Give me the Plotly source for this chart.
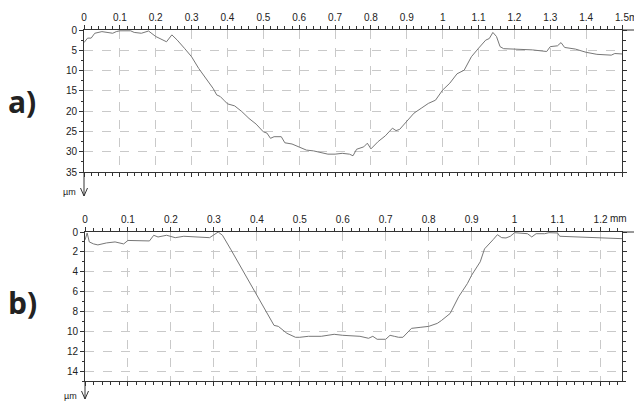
import plotly.graph_objects as go

# Panel a profile (x in mm, depth in µm)
a_x = [0.0, 0.01, 0.02, 0.03, 0.05, 0.07, 0.08, 0.09, 0.10, 0.13, 0.14, 0.16, 0.18, 0.20, 0.22, 0.23,
       0.245, 0.26, 0.28, 0.30, 0.32, 0.34, 0.36, 0.37, 0.38, 0.39, 0.40, 0.42, 0.44, 0.46, 0.48, 0.50,
       0.51, 0.52, 0.53, 0.55, 0.56, 0.58, 0.60, 0.62, 0.64, 0.66, 0.68, 0.70, 0.72, 0.74, 0.75, 0.76,
       0.78, 0.79, 0.80, 0.82, 0.84, 0.86, 0.87, 0.88, 0.90, 0.92, 0.94, 0.96, 0.98, 1.00, 1.02, 1.04,
       1.06, 1.08, 1.10, 1.12, 1.13, 1.14, 1.15, 1.16, 1.17, 1.20, 1.25, 1.29, 1.30, 1.32, 1.33, 1.34,
       1.37, 1.40, 1.43, 1.47, 1.48, 1.50]
a_y = [3.1, 2.0, 2.0, 0.8, 0.4, 0.7, 0.8, 0.4, 0.2, 0.2, 0.6, 0.8, 0.25, 1.6, 2.5, 2.9,
       1.2, 2.5, 4.5, 6.6, 9.5, 11.9, 14.4, 16.0, 16.4, 17.3, 18.2, 18.7, 20.1, 21.8, 23.2, 25.1,
       25.4, 26.7, 26.3, 26.3, 27.8, 28.1, 28.8, 29.6, 29.8, 30.2, 30.6, 30.6, 30.4, 30.6, 31.0, 29.4,
       28.8, 27.9, 29.3, 27.5, 26.1, 24.2, 24.8, 24.5, 22.6, 20.5, 19.3, 18.1, 17.3, 14.8, 13.1, 10.8,
       9.9, 6.6, 4.5, 2.5, 2.1, 0.6, 1.6, 4.1, 4.6, 4.7, 4.9, 5.3, 4.1, 3.9, 3.1, 4.3,
       4.7, 5.5, 6.0, 6.2, 5.8, 5.9]

# Panel b profile
b_x = [0.0, 0.005, 0.01, 0.02, 0.03, 0.05, 0.07, 0.09, 0.10, 0.15, 0.16, 0.17, 0.19, 0.21, 0.23, 0.26,
       0.28, 0.29, 0.31, 0.32, 0.34, 0.36, 0.38, 0.40, 0.42, 0.44, 0.45, 0.47, 0.49, 0.50, 0.52, 0.55,
       0.58, 0.60, 0.64, 0.66, 0.67, 0.68, 0.70, 0.71, 0.72, 0.73, 0.74, 0.75, 0.76, 0.78, 0.80, 0.82,
       0.83, 0.85, 0.87, 0.89, 0.90, 0.92, 0.93, 0.95, 0.96, 0.97, 0.98, 0.99, 1.00, 1.03, 1.04, 1.05,
       1.07, 1.08, 1.10, 1.105, 1.20, 1.25]
b_y = [0.8, 0.1, 1.0, 1.2, 1.3, 1.1, 1.0, 1.2, 0.85, 0.9, 0.33, 0.5, 0.33, 0.57, 0.43, 0.5,
       0.5, 0.57, 0.0, 0.33, 1.8, 3.35, 4.86, 6.36, 7.87, 9.4, 9.5, 10.2, 10.6, 10.6, 10.5, 10.5,
       10.3, 10.4, 10.5, 10.7, 10.5, 10.8, 10.8, 10.4, 10.5, 10.6, 10.6, 10.2, 9.7, 9.6, 9.5, 9.2,
       8.9, 8.2, 6.5, 5.2, 4.35, 3.0, 1.7, 0.77, 0.27, 0.57, 0.6, 0.43, 0.07, 0.17, 0.5, 0.17,
       0.17, 0.07, 0.1, 0.43, 0.6, 0.67]

a_xticks = [round(0.1 * i, 1) for i in range(16)]
a_xticktext = ["0"] + [f"{v:g}" for v in a_xticks[1:]]
a_yticks = list(range(0, 36, 5))
b_xticks = [round(0.1 * i, 1) for i in range(13)]
b_xticktext = ["0"] + [f"{v:g}" for v in b_xticks[1:]]
b_yticks = list(range(0, 15, 2))

# page body has an 8px margin: figure is drawn 8px in from the window corner
OFF = 8
W, H = 642 - OFF, 403 - OFF
def px(x):
    return (x - OFF) / W
def py(y):
    return 1 - (y - OFF) / H

FONT = "Liberation Sans, Arial, sans-serif"
AX = "#333333"
GRID = "#c9c9c9"
LINE = "#777777"

fig = go.Figure()
fig.add_trace(go.Scatter(x=a_x, y=a_y, mode="lines", line=dict(color=LINE, width=1),
                         xaxis="x", yaxis="y", showlegend=False, hoverinfo="skip"))
fig.add_trace(go.Scatter(x=b_x, y=b_y, mode="lines", line=dict(color=LINE, width=1),
                         xaxis="x2", yaxis="y2", showlegend=False, hoverinfo="skip"))

common_x = dict(side="top", showline=True, linecolor=AX, linewidth=1, mirror="ticks",
                ticks="outside", ticklen=4, tickcolor=AX, tickwidth=1, automargin=False,
                tickfont=dict(family=FONT, size=10, color="#222"),
                showgrid=True, gridcolor=GRID, griddash="dash", gridwidth=1, zeroline=False,
                minor=dict(dtick=0.02, ticks="outside", ticklen=3, tickcolor=AX, showgrid=False),
                fixedrange=True)
common_y = dict(showline=True, linecolor=AX, linewidth=1, mirror="ticks",
                ticks="outside", ticklen=4, tickcolor=AX, tickwidth=1, automargin=False,
                tickfont=dict(family=FONT, size=10, color="#222"),
                showgrid=True, gridcolor=GRID, griddash="dash", gridwidth=1, zeroline=False,
                fixedrange=True)

fig.update_layout(
    width=W, height=H, margin=dict(l=0, r=0, t=0, b=0, autoexpand=False),
    paper_bgcolor="white", plot_bgcolor="white",
    xaxis=dict(common_x, domain=[px(84), px(622)], anchor="y", range=[0, 1.5],
               tickvals=a_xticks, ticktext=a_xticktext),
    yaxis=dict(common_y, domain=[py(172), py(30)], anchor="x", range=[35, 0],
               tickvals=a_yticks, minor=dict(dtick=2.5, ticks="outside", ticklen=2.5, tickcolor=AX, showgrid=False)),
    xaxis2=dict(common_x, domain=[px(85), px(622)], anchor="y2", range=[0, 1.25],
                tickvals=b_xticks, ticktext=b_xticktext),
    yaxis2=dict(common_y, domain=[py(381), py(232)], anchor="x2", range=[15, 0],
                tickvals=b_yticks, minor=dict(dtick=1, ticks="outside", ticklen=2.5, tickcolor=AX, showgrid=False)),
)

shapes = []
def seg(x0, y0, x1, y1):
    shapes.append(dict(type="line", xref="paper", yref="paper",
                       x0=px(x0), y0=py(y0), x1=px(x1), y1=py(y1),
                       line=dict(color=AX, width=1)))

# panel a arrows
seg(622, 30, 641, 30); seg(634, 25, 641, 30); seg(634, 35, 641, 30)
seg(84, 172, 84, 196); seg(80.5, 188, 84, 196); seg(87.5, 188, 84, 196)
# panel b arrows
seg(622, 232, 641, 232); seg(634, 227, 641, 232); seg(634, 237, 641, 232)
seg(85, 381, 85, 399); seg(81.5, 391, 85, 399); seg(88.5, 391, 85, 399)

LBL = dict(family="Open Sans, Noto Sans, sans-serif", size=30, color="#222")
annots = [
    dict(text="<b>a)</b>", x=px(22), y=py(102), xref="paper", yref="paper", showarrow=False,
         font=LBL, xanchor="center", yanchor="middle"),
    dict(text="<b>b)</b>", x=px(22), y=py(302), xref="paper", yref="paper", showarrow=False,
         font=LBL, xanchor="center", yanchor="middle"),
    dict(text="µm", x=px(69), y=py(192), xref="paper", yref="paper", showarrow=False,
         font=dict(family=FONT, size=9, color="#222"), xanchor="center", yanchor="middle"),
    dict(text="µm", x=px(70), y=py(396), xref="paper", yref="paper", showarrow=False,
         font=dict(family=FONT, size=9, color="#222"), xanchor="center", yanchor="middle"),
    dict(text="mm", x=1.5, xref="x", y=py(17), yref="paper", xshift=5, showarrow=False,
         font=dict(family=FONT, size=10, color="#222"), xanchor="left", yanchor="middle"),
    dict(text="mm", x=1.2, xref="x2", y=py(219), yref="paper", xshift=7, showarrow=False,
         font=dict(family=FONT, size=10, color="#222"), xanchor="left", yanchor="middle"),
]
fig.update_layout(shapes=shapes, annotations=annots)

fig.write_html("out.html")
